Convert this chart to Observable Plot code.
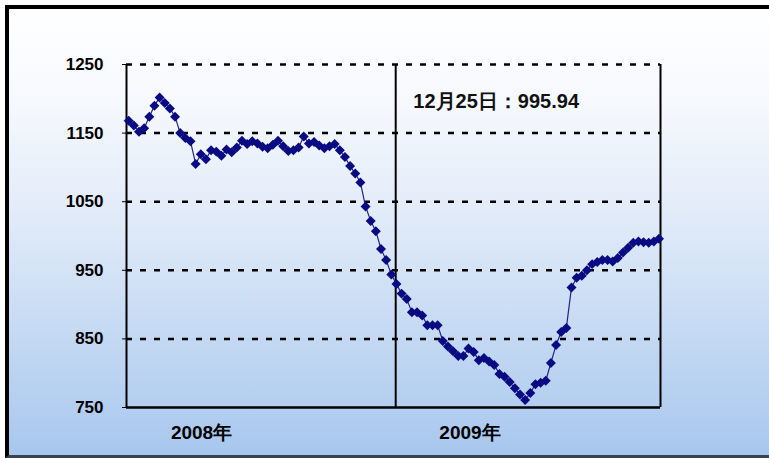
<!DOCTYPE html>
<html>
<head>
<meta charset="utf-8">
<script src="https://cdn.jsdelivr.net/npm/d3@7"></script>
<script src="https://cdn.jsdelivr.net/npm/@observablehq/plot@0.6"></script>
<style>
  html, body { margin: 0; padding: 0; width: 769px; height: 458px; overflow: hidden; background: #ffffff; }
  #frame {
    position: absolute; left: 5px; top: 5px; width: 770px; height: 446px;
    border-top: 4px solid #000; border-left: 4px solid #000; border-bottom: 3px solid #3a4150;
    background: linear-gradient(to bottom, #ffffff 0%, #f5f8fd 22%, #e0eaf8 48%, #c5daf3 72%, #a8c7ee 100%);
  }
  #chart { position: absolute; left: 0; top: 0; }
</style>
</head>
<body>
<div id="frame"></div>
<div id="chart"></div>
<script>
// Weekly closing values, first week of 2008 to 25 Dec 2009
const values = [
  1168, 1161, 1152, 1157, 1174, 1190, 1202, 1194, 1186, 1174,
  1150, 1143, 1138, 1105, 1119, 1112, 1125, 1123, 1117, 1126,
  1122, 1129, 1139, 1134, 1138, 1135, 1130, 1128, 1133, 1139,
  1131, 1124, 1125, 1129, 1145, 1135, 1137, 1132, 1128, 1131,
  1134, 1125, 1115, 1102, 1091, 1078, 1043, 1022, 1007, 981,
  965, 944, 930, 916, 908, 889, 889, 884, 870, 870,
  870, 847, 839, 832, 825, 825, 836, 831, 819, 822,
  817, 812, 799, 795, 787, 778, 769, 761, 771, 784,
  786, 789, 815, 841, 860, 866, 925, 939, 942, 950,
  959, 962, 965, 965, 963, 968, 976, 983, 990, 992,
  991, 990, 992, 995.94
];
const firstWeek = "2008-01-04";
const lastWeek = "2009-12-25";
const yTicks = [750, 850, 950, 1050, 1150, 1250];
const yearLabelDates = ["2008-04-12", "2009-04-12"];
const yearSuffix = "年";
const xStart = "2008-01-01";
const yearBreak = "2009-01-01";
const xEnd = "2009-12-27";
const annotationText = "12月25日：995.94";
const annotationDate = "2009-01-25";
const annotationValue = 1196;

const dates = d3.utcFriday.range(new Date(firstWeek), d3.utcDay.offset(new Date(lastWeek), 1));
const data = values.map((v, i) => ({date: dates[i], value: v}));

const font = "'Liberation Sans', Arial, sans-serif";

const chart = Plot.plot({
  width: 769,
  height: 458,
  marginLeft: 126,
  marginRight: 109,
  marginTop: 64,
  marginBottom: 51,
  style: {background: "transparent", fontFamily: font, overflow: "visible", color: "#000"},
  x: {type: "utc", domain: [new Date(xStart), new Date(xEnd)]},
  y: {domain: [750, 1250]},
  marks: [
    Plot.ruleY(yTicks.filter(d => d > 750), {stroke: "#000", strokeWidth: 2.5, strokeDasharray: "6 8"}),
    Plot.ruleX([new Date(xStart), new Date(yearBreak), new Date(xEnd)], {stroke: "#000", strokeWidth: 2}),
    Plot.ruleY([750], {stroke: "#000", strokeWidth: 2.5}),
    Plot.axisY({ticks: yTicks, tickSize: 4, tickPadding: 19, fontSize: 17, fontWeight: "bold",
      tickFormat: d => String(d), label: null}),
    Plot.axisX({ticks: yearLabelDates.map(d => new Date(d)), tickSize: 0, tickPadding: 18,
      fontSize: 19, fontWeight: "bold", tickFormat: d => d.getUTCFullYear() + yearSuffix, label: null}),
    Plot.line(data, {x: "date", y: "value", stroke: "#22228a", strokeWidth: 1.2}),
    Plot.dot(data, {x: "date", y: "value", symbol: "diamond2", fill: "#0a0a82", stroke: "none", r: 4.5}),
    Plot.text([annotationText], {x: new Date(annotationDate), y: annotationValue, text: d => d,
      textAnchor: "start", fontSize: 20, fontWeight: "bold", fill: "#111"})
  ]
});
document.getElementById("chart").appendChild(chart);
</script>
</body>
</html>
